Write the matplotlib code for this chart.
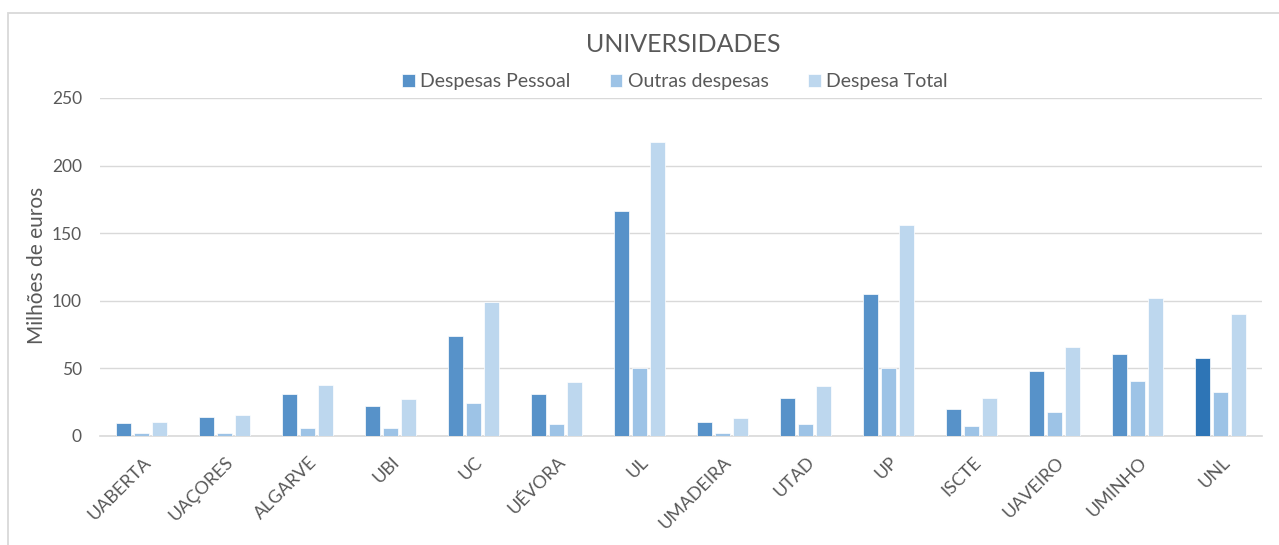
import matplotlib
matplotlib.use("Agg")
import matplotlib.pyplot as plt
import matplotlib.transforms as mtransforms
import numpy as np
from matplotlib.patches import Rectangle

categories = ["UABERTA", "UAÇORES", "ALGARVE", "UBI", "UC", "UÉVORA", "UL",
              "UMADEIRA", "UTAD", "UP", "ISCTE", "UAVEIRO", "UMINHO", "UNL"]
despesas_pessoal = [9.3, 13.8, 31.3, 22.0, 74.0, 31.3, 166.4, 10.6, 28.1, 105.0, 20.0, 47.8, 60.6, 57.4]
outras_despesas = [2.0, 2.0, 5.9, 5.9, 24.2, 9.1, 50.0, 2.0, 9.1, 50.0, 7.4, 17.8, 40.7, 32.8]
despesa_total = [10.6, 15.5, 37.7, 27.4, 99.0, 40.0, 217.2, 13.0, 37.0, 156.0, 28.1, 65.6, 101.8, 90.2]
series_names = ["Despesas Pessoal", "Outras despesas", "Despesa Total"]
yticks = [0, 50, 100, 150, 200, 250]

plt.rcParams['font.family'] = ['Lato', 'DejaVu Sans']
c1, c2, c3 = "#5792C9", "#9DC3E6", "#BDD7EE"
c1_dark = "#2E75B6"
txt = "#595959"

W, H = 1279, 545
fig = plt.figure(figsize=(W / 100, H / 100), dpi=100)
fig.patches.append(Rectangle((8 / W, -0.05), 1.0, 1 - 13 / H + 0.05,
                             transform=fig.transFigure, fill=False,
                             edgecolor="#D9D9D9", linewidth=1.3))
ax = fig.add_axes([100 / W, 1 - 436 / H, 1162 / W, 338 / H])

x = np.arange(len(categories))
w = 0.175
off = 0.22
cols1 = [c1] * (len(categories) - 1) + [c1_dark]
ax.bar(x - off, despesas_pessoal, w, color=cols1, edgecolor="white", linewidth=0.5,
       label=series_names[0], zorder=3)
ax.bar(x, outras_despesas, w, color=c2, edgecolor="white", linewidth=0.5,
       label=series_names[1], zorder=3)
ax.bar(x + off, despesa_total, w, color=c3, edgecolor="white", linewidth=0.5,
       label=series_names[2], zorder=3)

ax.set_xlim(-0.5, len(categories) - 0.5)
ax.set_ylim(0, 250)
ax.set_yticks(yticks)
ax.grid(axis='y', color="#D9D9D9", linewidth=1.0, zorder=0)
ax.set_axisbelow(True)
for s in ["top", "right", "left"]:
    ax.spines[s].set_visible(False)
ax.spines["bottom"].set_color("#D9D9D9")
ax.spines["bottom"].set_linewidth(1.2)
ax.tick_params(axis='y', length=0, colors=txt, labelsize=12.5, pad=13)
ax.set_xticks(x)
ax.set_xticklabels(categories, rotation=45, ha='right', rotation_mode='anchor')
ax.tick_params(axis='x', length=0, colors=txt, labelsize=13, pad=13)
shift = mtransforms.ScaledTranslation(1 / 100, 0, fig.dpi_scale_trans)
for lab in ax.get_xticklabels():
    lab.set_transform(lab.get_transform() + shift)

fig.text(37 / W, 1 - 265 / H, "Milhões de euros", rotation=90, ha='center', va='center',
         fontsize=15, color=txt)
fig.text(683 / W, 1 - 45 / H, "UNIVERSIDADES", ha='center', va='center', fontsize=18, color=txt)
leg = fig.legend(loc='center', bbox_to_anchor=(675 / W, 1 - 82 / H), ncol=3, frameon=False,
                 fontsize=14, handlelength=0.65, handleheight=0.65, handletextpad=0.3,
                 columnspacing=2.0)
for t in leg.get_texts():
    t.set_color(txt)

fig.savefig("out.png", dpi=100, facecolor="white")
